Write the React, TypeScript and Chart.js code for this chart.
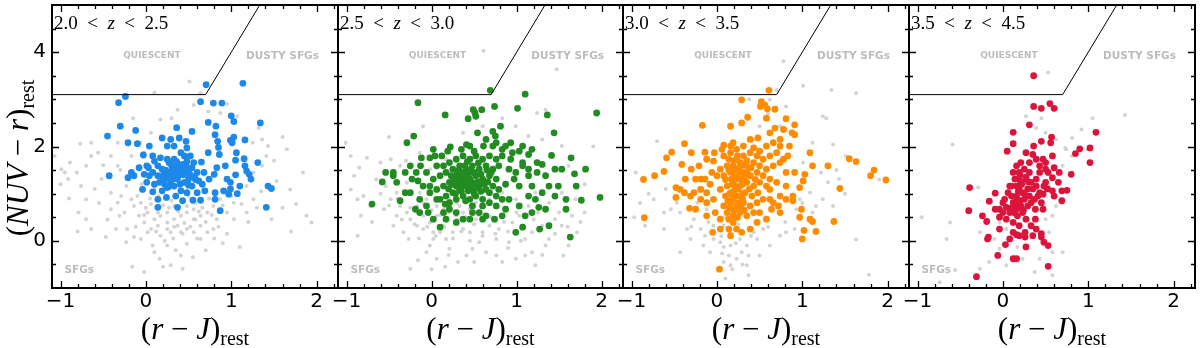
import React, { useEffect, useRef } from "react";
import { Chart, registerables } from "chart.js";

Chart.register(...registerables);

// ---------------- axes ----------------
const X_MIN = -1.1;
const X_MAX = 2.25;
const Y_MIN = -1;
const Y_MAX = 5;
const X_TICKS = [-1, 0, 1, 2];
const Y_TICKS = [0, 2, 4];

// ---------------- panels ----------------
const PANEL_ZLO = ["2.0", "2.5", "3.0", "3.5"];
const PANEL_ZHI = ["2.5", "3.0", "3.5", "4.5"];
const PANEL_COLORS = ["#1e88e8", "#228b22", "#ff8c00", "#dc143c"];
const GRAY_COLOR = "#d3d3d3";

// selection boundary (NUV-r > 3.1 and NUV-r > 3(r-J)+1)
const BOUNDARY_X = [-1.1, 0.7, 1.3333];
const BOUNDARY_Y = [3.1, 3.1, 5];

// region labels
const REGION_NAMES = ["QUIESCENT", "DUSTY SFGs", "SFGs"];
const REGION_X = [0.07, 1.6, -0.78];
const REGION_Y = [3.92, 3.92, -0.63];

// ---------------- data: 2.0 < z < 2.5 ----------------
const SEL_Z20_25: number[][] = [
  [0.705,3.31],[1.136,3.34],[-0.24,3.06],[-0.32,2.93],[0.64,2.95],[0.79,2.92],[0.89,2.92],[-0.30,2.43],[-0.12,2.34],[-0.45,2.22],
  [-0.21,2.08],[-0.10,2.06],[0.04,2.01],[-0.03,1.82],[-0.43,1.38],[0.36,2.40],[0.54,2.32],[0.73,2.51],[0.82,2.43],[1.0,2.65],
  [1.03,2.53],[1.34,2.50],[1.16,2.14],[0.81,2.25],[0.84,2.11],[0.99,2.13],[1.03,2.20],[1.01,2.08],[0.85,1.98],[0.73,1.87],
  [0.86,1.83],[1.06,1.87],[1.05,1.71],[1.15,1.74],[1.31,1.66],[1.16,1.59],[1.18,1.48],[1.21,1.41],[1.23,1.31],[1.05,1.40],
  [0.99,1.24],[1.10,1.16],[1.43,1.16],[1.47,1.11],[1.41,0.71],[1.07,1.0],[0.97,0.99],[0.93,1.59],[0.83,1.55],[0.65,1.67],
  [0.80,1.41],[0.74,1.31],[0.66,1.20],[0.69,1.06],[0.60,1.02],[0.64,0.86],[0.55,0.86],[0.81,0.88],[0.87,0.64],[0.91,1.06],
  [0.81,1.02],[0.43,0.85],[0.37,0.71],[0.14,0.71],[0.24,0.92],[0.14,0.88],[0.08,1.04],[-0.04,1.09],[0.01,1.24],[-0.08,1.55],
  [0.01,1.59],[-0.17,1.45],[-0.21,1.34],[-0.14,1.38],[0.10,1.69],[0.17,1.76],[0.08,1.80],[0.14,1.59],[0.19,1.52],[0.25,1.45],
  [0.31,1.55],[0.27,1.66],[0.33,1.73],[0.41,1.87],[0.45,1.80],[0.48,1.69],[0.52,1.80],[0.56,1.66],[0.43,1.62],[0.33,2.01],
  [0.25,2.01],[0.19,2.18],[0.29,2.15],[0.39,2.18],[0.47,2.11],[0.48,1.97],[0.37,1.31],[0.48,1.45],[0.54,1.55],[0.45,1.24],
  [0.33,1.16],[0.21,1.27],[0.14,1.38],[0.08,1.45],[0.25,1.13],[0.19,1.06],[0.41,1.06],[0.48,1.02],[0.35,0.95],[0.29,1.27],
  [0.50,1.31],[0.60,1.45],[0.62,1.27],[0.48,1.55],[0.41,1.45],[0.33,1.41],[0.27,1.34],[0.21,1.41],[0.16,1.24],[0.10,1.20],
  [0.04,1.38],[-0.02,1.41],[0.03,1.55],[0.25,1.73],[0.37,1.59],[0.46,1.56],[0.54,1.16],[0.68,1.45],[0.95,1.31],[0.99,1.10],
  [0.2,1.35],[0.23,1.5],[0.28,1.45],[0.31,1.3],[0.35,1.5],[0.38,1.38],[0.42,1.52],[0.44,1.4],[0.5,1.5],[0.52,1.4],
  [0.57,1.35],[0.3,1.6],[0.36,1.68],[0.4,1.6],[0.47,1.63],[0.22,1.2],[0.27,1.15],[0.4,1.2],[0.5,1.18],[0.58,1.3],
];
const ALL_Z20_25: number[][] = [
  [0.51,3.38],[0.10,3.14],[0.56,2.88],[1.32,2.39],[-0.77,2.06],[-1.07,1.80],[-0.95,1.45],[-0.91,1.31],[-0.81,1.45],[-0.64,1.80],
  [-0.56,1.87],[-0.70,1.59],[-0.52,1.31],[-0.76,1.16],[-0.70,0.88],[-0.79,0.60],[-0.70,0.46],[-0.64,0.25],[-0.47,0.08],[-0.41,0.67],
  [-0.41,1.02],[-0.33,0.81],[-0.31,0.53],[-0.22,0.25],[-0.14,0.08],[-0.06,0.04],[-0.23,-0.03],[-0.16,-0.55],[-0.02,-0.66],[0.10,-0.24],
  [0.16,-0.38],[0.25,-0.10],[0.29,-0.52],[0.43,-0.59],[0.41,-0.31],[0.48,-0.06],[0.41,0.18],[0.29,0.18],[0.17,0.11],[0.06,0.25],
  [-0.02,0.39],[-0.08,0.53],[-0.14,0.74],[-0.10,0.95],[0.02,0.60],[0.10,0.46],[0.17,0.53],[0.25,0.39],[0.33,0.46],[0.41,0.53],
  [0.48,0.60],[0.56,0.46],[0.64,0.53],[0.72,0.60],[0.79,0.74],[0.64,0.32],[0.56,0.18],[0.72,0.18],[0.83,0.46],[0.95,0.60],
  [1.03,0.46],[1.10,-0.13],[1.18,0.60],[1.26,0.88],[1.47,0.46],[1.53,1.27],[1.69,1.09],[1.76,0.78],[1.84,1.45],[1.88,0.53],
  [1.94,0.39],[1.65,1.94],[1.43,2.01],[1.36,2.15],[1.25,2.08],[1.07,2.64],[0.87,2.71],[0.73,2.74],[0.64,3.13],[0.37,2.78],
  [0.17,2.57],[0.06,2.29],[-0.06,2.08],[-0.33,2.08],[-0.41,1.80],[-0.33,1.59],[-0.23,1.16],[-0.29,0.95],[-0.17,0.88],[-0.06,0.81],
  [0.06,0.78],[0.14,0.60],[0.25,0.60],[0.33,0.74],[0.48,0.74],[0.56,0.67],[0.25,0.25],[0.37,0.32],[0.48,0.25],[0.14,0.32],
  [0.02,0.18],[0.64,0.04],[0.79,0.25],[0.87,0.88],[1.03,0.81],[1.18,1.16],[1.26,1.45],[1.36,1.59],[1.41,1.80],[-0.02,1.87],
  [-0.17,1.80],[-0.64,2.08],[-0.99,1.52],[-0.89,1.66],
  [0.0,0.7],[0.05,0.9],[0.12,0.2],[0.2,0.75],[0.22,0.0],[0.3,0.85],[0.32,0.05],[0.38,0.62],[0.45,0.38],[0.52,0.3],
  [0.58,0.8],[0.6,0.05],[0.66,0.7],[0.7,0.4],[0.77,0.55],[0.85,0.3],[0.9,0.75],[0.95,0.15],[1.0,0.95],[1.12,0.78],
  [1.2,0.4],[1.3,0.7],[1.35,1.05],[-0.05,1.2],[-0.2,1.3],[-0.3,1.5],[-0.5,1.6],[-0.6,1.1],[-0.55,0.8],[-0.45,0.45],
  [-0.35,0.25],[-0.25,0.6],[-0.12,0.3],[0.08,-0.1],[0.35,-0.2],[0.2,-0.55],[0.55,-0.35],[0.7,-0.2],[0.9,-0.05],[-0.8,0.2],
  [-0.9,0.9],[-1.0,1.2],[1.6,0.7],[1.7,0.2],[1.5,1.7],[1.6,2.2],[0.95,2.9],[0.3,2.6],[-0.15,2.6],[0.1,1.1],
  [0.27,0.7],[0.43,0.15],[0.62,0.62],[0.74,0.9],[0.5,0.95],[0.15,0.95],[-0.02,0.55],[0.33,0.3],[0.58,0.45],[0.8,0.05],
];

// ---------------- data: 2.5 < z < 3.0 ----------------
const SEL_Z25_30: number[][] = [
  [0.69,3.19],[1.10,3.11],[-0.16,2.93],[0.16,2.67],[0.49,2.78],[0.59,2.78],[0.74,2.85],[1.01,2.81],[1.36,2.67],[1.94,2.71],
  [0.43,2.59],[0.52,2.64],[0.51,2.71],[0.81,2.43],[0.72,2.32],[0.54,2.29],[1.44,2.29],[-0.21,2.22],[-0.29,2.08],[0.22,1.99],
  [0.41,2.04],[0.75,2.22],[0.93,2.08],[1.07,2.01],[1.18,1.94],[1.14,1.83],[1.03,1.90],[0.61,2.01],[0.50,1.90],[0.83,1.94],
  [0.72,2.01],[1.41,1.81],[1.64,1.76],[1.53,1.52],[1.68,1.42],[1.81,1.52],[1.70,1.16],[1.76,0.86],[1.98,0.92],[1.58,0.88],
  [1.58,0.67],[1.63,0.08],[1.34,0.67],[1.26,0.71],[1.18,0.60],[1.10,0.53],[1.27,0.25],[1.38,0.32],[1.07,0.29],[0.99,0.18],
  [1.14,0.95],[1.03,1.16],[1.14,1.38],[1.24,1.45],[1.34,1.38],[1.45,1.52],[1.30,1.62],[1.24,1.66],[1.07,1.66],[0.93,1.73],
  [0.91,1.52],[0.99,1.45],[0.97,1.31],[0.87,1.20],[0.79,1.09],[0.76,0.95],[0.83,0.88],[0.68,0.81],[0.60,0.74],[0.48,0.74],
  [0.45,0.46],[0.37,0.46],[0.60,0.46],[0.29,0.60],[0.14,0.60],[0.10,0.29],[0.16,0.78],[0.06,0.88],[-0.04,0.60],[-0.14,0.88],
  [-0.14,0.60],[-0.37,0.85],[-0.70,0.78],[-0.58,1.25],[-0.45,1.45],[-0.45,1.38],[-0.31,1.45],[-0.18,1.45],[-0.31,1.02],[-0.16,1.27],
  [-0.12,1.76],[-0.02,1.76],[-0.13,1.59],[-0.06,1.45],[0.04,1.80],[0.12,1.80],[0.06,1.59],[0.14,1.59],[0.21,1.66],[0.29,1.73],
  [0.37,1.80],[0.45,1.73],[0.52,1.80],[0.60,1.73],[0.68,1.80],[0.76,1.73],[0.83,1.80],[0.79,1.59],[0.72,1.52],[0.64,1.59],
  [0.56,1.52],[0.48,1.59],[0.41,1.52],[0.33,1.59],[0.25,1.52],[0.17,1.45],[0.10,1.38],[0.02,1.31],[-0.02,1.16],[0.06,1.09],
  [0.14,1.16],[0.21,1.24],[0.29,1.31],[0.37,1.38],[0.45,1.31],[0.52,1.38],[0.60,1.31],[0.68,1.38],[0.76,1.31],[0.72,1.16],
  [0.64,1.09],[0.56,1.16],[0.48,1.09],[0.41,1.16],[0.33,1.09],[0.25,1.02],[0.17,0.95],[0.10,0.88],[0.21,0.81],[0.29,0.88],
  [0.37,0.95],[0.45,0.88],[0.52,0.95],[0.60,0.88],[0.68,1.02],[0.41,1.31],[0.37,1.20],[0.43,1.06],[0.35,1.45],[0.47,1.45],
  [0.39,1.59],[0.29,1.16],[0.23,1.38],[0.52,1.23],[0.58,1.41],[0.48,0.60],[0.56,0.60],[0.21,0.67],[-0.02,1.02],[-0.10,1.16],
  [-0.23,1.31],[-0.25,1.59],[0.02,1.94],[0.19,1.90],[0.35,1.94],[0.45,2.01],[0.64,2.15],[0.76,2.08],[0.87,2.01],[0.95,1.87],
  [1.07,1.59],[1.14,1.52],[1.18,1.16],[1.30,1.02],[1.22,0.88],[1.38,1.16],[1.49,1.16],[1.45,0.95],[1.03,0.74],[0.91,0.88],
  [0.87,0.67],[0.76,0.74],[0.83,0.53],[0.74,0.46],[0.64,0.53],[0.29,0.39],[0.17,0.46],[0.02,0.46],[-0.06,0.74],[-0.19,0.67],
  [-0.25,1.02],[-0.41,1.24],[-0.54,1.45],
  [0.3,1.2],[0.33,1.25],[0.36,1.15],[0.38,1.3],[0.4,1.22],[0.42,1.4],[0.44,1.18],[0.46,1.27],[0.5,1.2],[0.53,1.12],
  [0.35,1.35],[0.3,1.42],[0.27,1.3],[0.24,1.2],[0.45,1.5],[0.5,1.45],[0.55,1.25],[0.58,1.05],[0.62,1.2],[0.66,1.25],
  [0.7,1.45],[0.65,1.5],[0.55,1.65],[0.42,1.68],[0.32,1.5],[0.2,1.1],[0.28,1.0],[0.35,1.05],[0.4,0.85],[0.5,1.0],
];
const ALL_Z25_30: number[][] = [
  [0.61,4.03],[1.47,3.64],[1.02,2.84],[1.24,2.71],[1.34,2.78],[-0.10,2.43],[-1.01,2.08],[-0.76,1.76],[-0.60,1.66],[-0.91,1.38],
  [-0.95,1.09],[-0.87,0.88],[-0.83,0.53],[-0.87,0.11],[-0.72,0.74],[-0.54,1.16],[-0.48,0.88],[-0.56,0.67],[-0.41,0.53],[-0.45,0.32],
  [-0.33,0.18],[-0.27,0.04],[-0.25,-0.59],[-0.16,-0.41],[-0.06,-0.24],[-0.02,-0.10],[0.02,0.04],[0.10,0.18],[0.17,0.04],[0.21,-0.17],
  [0.06,-0.38],[0.16,-0.55],[0.31,-0.45],[0.41,-0.31],[0.48,-0.17],[0.56,-0.03],[0.64,-0.24],[0.76,-0.31],[0.83,-0.45],[0.99,-0.38],
  [1.10,-0.31],[1.22,-0.52],[1.18,-0.24],[1.34,-0.10],[1.55,-0.31],[1.61,-0.10],[1.38,0.04],[1.10,0.04],[0.91,-0.03],[0.76,0.04],
  [0.60,0.18],[0.45,0.18],[0.37,0.25],[0.25,0.18],[0.14,0.32],[0.02,0.18],[-0.10,0.25],[-0.17,0.32],[-0.25,0.46],[-0.29,0.60],
  [-0.17,0.74],[-0.10,0.53],[-0.02,0.39],[0.06,0.53],[0.14,0.67],[0.29,0.53],[0.37,0.60],[0.45,0.67],[0.52,0.46],[0.68,0.32],
  [0.79,0.25],[0.95,0.39],[1.03,0.53],[1.18,0.18],[1.30,0.32],[1.45,0.46],[1.53,0.32],[1.65,0.53],[1.71,0.18],[1.80,0.60],
  [1.53,1.02],[1.69,0.88],[1.22,1.02],[1.38,0.81],[1.14,0.74],[0.83,1.02],[0.68,0.88],[0.21,0.88],[0.06,0.74],[-0.37,0.74],
  [-0.41,1.02],[-0.29,1.23],[-0.37,1.59],[-0.48,1.73],[-0.14,1.87],[0.37,2.29],[0.60,2.43],[0.83,2.60],[0.99,2.43],[1.14,2.22],
  [1.30,2.15],[1.53,2.01],[1.61,1.59],[0.99,0.88],[0.33,0.74],[0.52,0.81],[-0.06,0.88],[-0.14,1.02],[-0.02,1.52],[0.17,1.73],
  [-0.6,1.0],[-0.5,0.75],[-0.4,0.9],[-0.35,0.45],[-0.25,0.7],[-0.2,0.35],[-0.1,0.8],[-0.05,0.3],[0.0,0.65],[0.05,0.1],
  [0.1,0.55],[0.15,0.3],[0.2,0.6],[0.25,0.05],[0.3,0.45],[0.35,0.2],[0.4,0.5],[0.45,0.0],[0.5,0.35],[0.55,0.55],
  [0.6,0.1],[0.7,0.5],[0.75,0.15],[0.85,0.4],[0.9,0.2],[1.0,0.6],[1.05,0.0],[1.2,0.45],[1.25,0.6],[1.45,0.15],
  [1.5,0.6],[1.6,0.3],[1.75,0.4],[-0.7,0.4],[-0.8,0.95],[-0.65,1.3],[-0.85,1.55],[0.2,-0.3],[0.5,-0.45],[0.9,-0.15],
  [0.0,-0.6],[-0.15,0.05],[1.3,-0.3],[-0.3,1.7],[-0.5,2.2],[1.8,1.2],[1.9,2.0],[-0.95,1.8],[0.3,0.8],[0.05,0.85],
];

// ---------------- data: 3.0 < z < 3.5 ----------------
const SEL_Z30_35: number[][] = [
  [0.61,3.19],[0.29,2.99],[0.52,2.95],[0.51,2.85],[0.59,2.80],[0.56,2.88],[0.68,2.79],[0.36,2.62],[0.58,2.60],[0.81,2.59],
  [-0.17,2.45],[0.16,2.43],[0.29,2.50],[0.91,2.46],[0.68,2.39],[0.78,2.36],[0.88,2.29],[0.91,2.25],[-0.38,2.06],[0.08,2.03],
  [0.19,2.08],[0.39,2.15],[0.48,2.18],[0.58,2.01],[0.74,2.01],[0.85,2.01],[1.09,1.87],[1.55,1.74],[1.63,1.68],[1.30,1.59],
  [1.12,1.59],[1.84,1.50],[1.80,1.38],[1.98,1.29],[1.44,1.11],[1.03,1.41],[1.01,1.27],[0.97,1.13],[0.89,0.95],[0.89,0.85],
  [0.81,1.45],[0.70,1.24],[0.62,1.09],[0.74,0.95],[0.66,0.81],[0.74,0.60],[0.99,0.67],[0.97,0.50],[1.09,0.46],[1.12,0.41],
  [1.02,0.22],[1.16,0.20],[1.00,0.04],[1.37,0.41],[0.58,0.46],[0.47,0.39],[0.39,0.25],[0.29,0.18],[0.16,0.11],[0.14,0.25],
  [0.04,0.25],[-0.05,0.18],[0.03,-0.60],[-0.12,0.53],[-0.25,0.67],[-0.32,0.69],[-0.38,1.02],[-0.48,0.92],[-0.85,0.49],[-0.86,1.30],
  [-0.73,1.38],[-0.62,1.47],[-0.59,1.76],[-0.53,1.88],[-0.41,1.62],[-0.30,1.52],[-0.25,1.31],[-0.19,1.31],[-0.14,1.31],[-0.08,1.20],
  [-0.12,1.02],[-0.04,0.88],[-0.12,0.81],[-0.19,0.88],[-0.31,0.95],[-0.43,1.09],[-0.48,1.13],[-0.37,1.31],[-0.30,1.87],[-0.14,1.88],
  [-0.03,1.87],[-0.12,1.73],[0.08,1.80],[0.16,1.87],[0.23,1.73],[0.31,1.80],[0.39,1.87],[0.47,1.80],[0.54,1.73],[0.62,1.80],
  [0.70,1.87],[0.74,1.66],[0.66,1.59],[0.58,1.52],[0.50,1.59],[0.43,1.66],[0.35,1.59],[0.27,1.66],[0.19,1.59],[0.12,1.59],
  [0.04,1.52],[0.00,1.38],[0.08,1.38],[0.16,1.45],[0.23,1.38],[0.31,1.45],[0.39,1.38],[0.47,1.45],[0.54,1.38],[0.62,1.31],
  [0.58,1.16],[0.50,1.24],[0.43,1.16],[0.35,1.24],[0.27,1.16],[0.19,1.24],[0.12,1.16],[0.04,1.09],[0.10,0.95],[0.17,1.02],
  [0.25,0.95],[0.33,1.02],[0.41,0.95],[0.48,1.02],[0.54,0.88],[0.47,0.81],[0.39,0.74],[0.31,0.81],[0.23,0.74],[0.16,0.81],
  [0.08,0.74],[0.12,0.60],[0.19,0.53],[0.27,0.60],[0.35,0.53],[0.43,0.60],[0.50,0.60],[0.19,0.39],[0.23,0.25],[0.14,0.46],
  [0.19,0.88],[0.21,1.16],[0.23,1.31],[0.17,1.31],[0.27,1.45],[0.21,1.52],[0.14,1.73],[0.06,1.94],[-0.04,1.69],[-0.06,1.45],
  [-0.21,1.59],[-0.19,1.09],[-0.27,1.02],[-0.02,0.60],[0.04,0.46],[0.64,0.67],[0.62,0.88],[0.72,0.74],[0.81,1.16],[0.81,0.88],
  [0.78,1.73],[0.66,2.08],[0.43,1.97],[0.50,1.90],[0.31,2.01],[0.23,1.94],[0.16,2.01],[0.62,2.29],[0.74,2.15],[0.83,1.80],
  [0.91,1.45],
  [0.15,1.0],[0.2,1.05],[0.25,1.1],[0.3,1.2],[0.18,1.2],[0.22,1.4],[0.28,1.3],[0.32,1.35],[0.26,1.55],[0.3,1.6],
  [0.2,1.7],[0.24,1.8],[0.35,1.7],[0.14,1.5],[0.1,1.3],[0.15,0.7],[0.2,0.65],[0.25,0.8],[0.3,0.9],[0.22,0.95],
  [0.13,0.85],[0.28,0.7],[0.35,1.45],[0.4,1.55],[0.45,1.3],[0.38,1.1],[0.32,0.65],[0.18,0.45],[0.24,0.5],[0.3,1.0],
];
const ALL_Z30_35: number[][] = [
  [0.78,3.81],[1.01,3.29],[1.34,3.20],[1.63,3.13],[1.24,2.64],[1.28,2.60],[0.38,3.00],[0.74,2.43],[-0.70,2.11],[1.36,2.04],
  [1.51,1.80],[1.43,1.31],[1.30,1.24],[1.22,1.45],[1.09,1.02],[1.16,0.74],[1.36,0.74],[1.63,0.03],[1.78,-0.72],[-0.95,1.45],
  [-0.97,0.50],[-0.84,0.32],[-0.62,0.25],[-0.43,-0.24],[-0.74,0.88],[-0.54,0.67],[-0.43,0.60],[-0.27,0.46],[-0.19,0.25],[-0.14,0.11],
  [-0.04,0.04],[0.04,-0.03],[0.08,-0.13],[0.06,-0.27],[0.14,-0.31],[0.08,-0.45],[0.16,-0.52],[0.23,-0.38],[0.29,-0.24],[0.35,-0.10],
  [0.37,-0.31],[0.35,-0.52],[0.37,-0.73],[0.50,-0.31],[0.47,0.04],[0.62,-0.10],[0.74,0.11],[0.81,0.18],[0.91,0.25],[1.12,0.60],
  [1.24,0.88],[-0.31,0.04],[-0.35,0.25],[-0.16,-0.10],[-0.08,-0.24],[0.54,0.25],[0.43,0.18],[0.27,0.04],[0.16,-0.10],[-0.04,0.32],
  [0.08,0.32],[-0.62,0.60],[-0.47,0.81],[-0.23,0.81],[-0.12,0.67],[0.93,0.67],[0.97,0.88],[0.62,2.99],[0.81,2.85],[0.43,2.15],
  [0.50,2.43],[1.12,2.08],[1.01,1.66],
  [0.1,0.5],[0.15,0.2],[0.22,-0.05],[0.25,0.35],[0.3,-0.5],[0.18,-0.6],[0.1,-0.8],[0.4,0.1],[0.05,0.1],[-0.1,0.4],
  [-0.3,0.3],[0.6,0.3],[0.8,0.4],[1.0,0.8],[1.4,1.5],[1.5,1.0],[-0.8,1.0],[-0.6,1.1],[-0.9,0.8],[1.9,1.3],
  [0.7,3.2],[0.6,2.7],
];

// ---------------- data: 3.5 < z < 4.5 ----------------
const SEL_Z35_45: number[][] = [
  [0.36,3.50],[0.36,2.85],[0.45,2.81],[0.55,2.91],[0.60,2.81],[0.31,2.46],[0.12,2.30],[0.12,2.06],[0.36,2.01],[1.09,2.30],
  [1.02,1.97],[0.90,1.95],[0.85,1.85],[1.02,1.66],[0.80,1.41],[0.57,2.20],[0.56,2.08],[0.45,2.11],[0.05,1.90],[0.27,1.87],
  [0.35,1.83],[0.31,1.66],[0.39,1.73],[0.47,1.73],[0.50,1.66],[0.43,1.59],[0.60,1.55],[0.53,1.45],[0.58,1.34],[0.65,1.24],
  [0.69,1.06],[0.75,1.07],[0.69,0.85],[0.60,0.95],[0.58,1.06],[0.48,1.16],[0.47,0.99],[0.45,0.81],[0.47,0.67],[0.38,0.67],
  [0.38,0.46],[0.39,0.25],[0.26,0.08],[0.27,-0.13],[0.45,0.15],[0.45,0.08],[0.48,-0.03],[0.53,-0.10],[0.53,-0.54],[0.16,0.13],
  [0.08,0.04],[0.03,-0.08],[-0.06,-0.31],[0.12,-0.38],[0.16,-0.38],[-0.31,-0.76],[-0.17,0.08],[-0.18,0.04],[-0.19,0.41],[-0.24,0.53],
  [-0.39,1.13],[-0.40,0.64],[-0.16,0.84],[-0.09,1.01],[-0.09,0.67],[-0.04,0.25],[-0.04,0.50],[0.00,0.60],[0.04,0.71],[0.02,0.88],
  [0.06,1.02],[0.10,1.16],[0.14,1.31],[0.12,1.45],[0.16,1.59],[0.21,1.66],[0.19,1.45],[0.25,1.52],[0.31,1.45],[0.27,1.31],
  [0.21,1.24],[0.19,1.10],[0.16,0.95],[0.12,0.81],[0.08,0.60],[0.04,0.46],[0.12,0.39],[0.17,0.53],[0.23,0.60],[0.29,0.74],
  [0.25,0.88],[0.31,0.95],[0.35,1.10],[0.33,1.24],[0.39,1.31],[0.43,1.45],[0.50,1.24],[0.52,1.10],[0.41,0.95],[0.33,0.81],
  [0.21,0.74],[0.16,0.67],[0.19,0.32],[0.27,0.46],[0.33,0.32],[0.35,0.11],[0.12,0.18],[-0.04,0.67],[0.00,0.81],[0.08,1.16],
  [0.16,1.16],[0.23,1.02],[0.29,1.10],[0.37,0.88],[0.43,1.02],[0.39,1.16],[0.19,1.31],[0.16,0.88],[0.10,0.95],[0.26,0.18],
  [0.19,0.11],[0.58,1.80],[0.50,1.52],[0.66,1.45],
  [0.15,0.75],[0.2,0.85],[0.25,1.0],[0.18,1.05],[0.22,1.2],[0.28,0.95],[0.13,0.6],[0.3,1.25],[0.24,0.65],[0.1,0.7],
  [0.27,1.35],[0.2,1.4],
];
const ALL_Z35_45: number[][] = [
  [0.53,3.57],[0.27,2.64],[0.45,2.60],[1.05,2.60],[1.43,2.67],[0.92,2.36],[0.81,2.18],[0.73,1.97],[0.99,1.94],[-0.59,2.04],
  [0.39,2.39],[0.50,2.29],[0.62,2.15],[0.70,1.59],[0.81,1.45],[0.54,1.16],[-0.29,1.13],[-0.95,0.50],[-0.62,0.39],[-0.66,0.04],
  [-0.56,-0.62],[-0.74,-0.88],[-0.27,-0.59],[-0.16,-0.45],[-0.04,-0.17],[0.04,-0.52],[0.17,-0.13],[0.23,-0.38],[0.37,-0.66],[0.43,-0.38],
  [0.58,-0.73],[0.58,-0.24],[0.70,-0.24],[0.54,0.18],[0.50,0.46],[-0.04,0.39],[-0.10,0.04],[-0.27,0.18],[0.04,0.25],[0.62,0.74],
  [0.58,0.53],[0.81,1.80],[0.74,1.94],
];

const SELECTED = [SEL_Z20_25, SEL_Z25_30, SEL_Z30_35, SEL_Z35_45];
const ALL = [ALL_Z20_25, ALL_Z25_30, ALL_Z30_35, ALL_Z35_45];

// ---------------- layout ----------------
const W = 1200;
const H = 348;
const PANEL_EDGES = [52, 338, 623, 909, 1195];
const PLOT_TOP = 5;
const PLOT_BOTTOM = 288;

const SERIF = "'Liberation Serif', 'DejaVu Serif', serif";

type Run = { t: string; f: string; dy?: number };

function drawRuns(ctx: CanvasRenderingContext2D, runs: Run[], x: number, y: number, align: "left" | "center") {
  let total = 0;
  const widths = runs.map((r) => {
    ctx.font = r.f;
    const w = ctx.measureText(r.t).width;
    total += w;
    return w;
  });
  let cx = align === "center" ? x - total / 2 : x;
  ctx.textAlign = "left";
  ctx.textBaseline = "alphabetic";
  runs.forEach((r, k) => {
    ctx.font = r.f;
    ctx.fillText(r.t, cx, y + (r.dy || 0));
    cx += widths[k];
  });
}

function axisTitleRuns(a: string[], sizeMain: number, sizeSub: number): Run[] {
  const runs: Run[] = a.map((tok) =>
    tok.startsWith("*")
      ? { t: tok.slice(1), f: `italic ${sizeMain}px ${SERIF}` }
      : { t: tok, f: `${sizeMain}px ${SERIF}` }
  );
  runs.push({ t: "rest", f: `${sizeSub}px ${SERIF}`, dy: 6 });
  return runs;
}

const decorPlugin = {
  id: "decor",
  beforeDatasetsDraw(chart: any) {
    const { ctx } = chart;
    const xs = chart.scales.x;
    const ys = chart.scales.y;
    ctx.save();
    ctx.fillStyle = "#bcbcbc";
    ctx.textAlign = "center";
    ctx.textBaseline = "middle";
    REGION_NAMES.forEach((t, k) => {
      ctx.font = k === 0 ? "bold 9px 'DejaVu Sans'" : "bold 10.5px 'DejaVu Sans'";
      ctx.fillText(t, xs.getPixelForValue(REGION_X[k]), ys.getPixelForValue(REGION_Y[k]));
    });
    ctx.restore();
  },
  afterDraw(chart: any, _args: any, opts: any) {
    const i: number = opts.index;
    const { ctx, chartArea } = chart;
    const { left, right, top, bottom } = chartArea;
    const xs = chart.scales.x;
    const ys = chart.scales.y;
    ctx.save();
    ctx.strokeStyle = "#000";
    ctx.lineWidth = 1.3;
    ctx.beginPath();
    for (let k = -5; k <= 11; k++) {
      const v = k * 0.2;
      if (v <= X_MIN || v >= X_MAX) continue;
      const major = Math.abs(v - Math.round(v)) < 1e-6;
      const len = major ? 7 : 4;
      const px = Math.round(xs.getPixelForValue(v)) + 0.5;
      ctx.moveTo(px, bottom);
      ctx.lineTo(px, bottom - len);
      ctx.moveTo(px, top);
      ctx.lineTo(px, top + len);
    }
    for (let k = -1; k <= 9; k++) {
      const v = k * 0.5;
      if (v <= Y_MIN || v >= Y_MAX) continue;
      const major = Math.abs(v / 2 - Math.round(v / 2)) < 1e-6;
      const len = major ? 7 : 4;
      const py = Math.round(ys.getPixelForValue(v)) + 0.5;
      ctx.moveTo(left, py);
      ctx.lineTo(left + len, py);
      ctx.moveTo(right, py);
      ctx.lineTo(right - len, py);
    }
    ctx.stroke();
    ctx.lineWidth = 2;
    ctx.strokeRect(left, top, right - left, bottom - top);

    // panel label
    ctx.fillStyle = "#000";
    const fs = 19;
    const sp = "\u2002";
    drawRuns(
      ctx,
      [
        { t: PANEL_ZLO[i], f: `${fs}px ${SERIF}` },
        { t: sp + "<" + sp, f: `${fs}px ${SERIF}` },
        { t: "z", f: `italic ${fs}px ${SERIF}` },
        { t: sp + "<" + sp, f: `${fs}px ${SERIF}` },
        { t: PANEL_ZHI[i], f: `${fs}px ${SERIF}` },
      ],
      left + 2,
      29,
      "left"
    );

    // x title
    drawRuns(ctx, axisTitleRuns(["(", "*r", " \u2212 ", "*J", ")"], 31, 20), (left + right) / 2, 339, "center");

    // y title (first panel only)
    if (i === 0) {
      ctx.save();
      ctx.translate(28, 158);
      ctx.rotate(-Math.PI / 2);
      drawRuns(ctx, axisTitleRuns(["(", "*NUV", " \u2212 ", "*r", ")"], 31, 20), 0, 0, "center");
      ctx.restore();
    }
    ctx.restore();
  },
};

const fmtTick = (v: number) => (v < 0 ? "\u2212" + Math.abs(v) : String(v));

function makeConfig(i: number): any {
  const left = PANEL_EDGES[i];
  const right = PANEL_EDGES[i + 1];
  const toPts = (arr: number[][]) => arr.map(([x, y]) => ({ x, y }));
  return {
    type: "scatter",
    data: {
      datasets: [
        {
          data: toPts(ALL[i]),
          pointRadius: 2,
          pointBackgroundColor: GRAY_COLOR,
          backgroundColor: GRAY_COLOR,
          pointBorderWidth: 0,
          borderWidth: 0,
          order: 3,
        },
        {
          data: toPts(SELECTED[i]),
          pointRadius: 3.4,
          pointBackgroundColor: PANEL_COLORS[i],
          backgroundColor: PANEL_COLORS[i],
          pointBorderWidth: 0,
          borderWidth: 0,
          order: 2,
        },
        {
          data: BOUNDARY_X.map((x, k) => ({ x, y: BOUNDARY_Y[k] })),
          showLine: true,
          borderColor: "#000",
          borderWidth: 1,
          pointRadius: 0,
          fill: false,
          order: 1,
        },
      ],
    },
    options: {
      responsive: false,
      animation: false,
      devicePixelRatio: 1,
      events: [],
      layout: {
        padding: { left: i === 0 ? 0 : left, right: W - right, top: PLOT_TOP, bottom: 0 },
      },
      plugins: {
        legend: { display: false },
        tooltip: { enabled: false },
        decor: { index: i },
      },
      scales: {
        x: {
          type: "linear",
          min: X_MIN,
          max: X_MAX,
          afterBuildTicks: (s: any) => {
            s.ticks = X_TICKS.map((value) => ({ value }));
          },
          afterFit: (s: any) => {
            s.height = H - PLOT_BOTTOM;
            s.paddingLeft = 0;
            s.paddingRight = 0;
            s.paddingTop = 0;
            s.paddingBottom = 0;
          },
          grid: { display: false, drawTicks: false },
          border: { display: false },
          ticks: {
            font: { family: "'DejaVu Sans'", size: 20 },
            color: "#000",
            padding: 2,
            maxRotation: 0,
            autoSkip: false,
            callback: (v: number) => fmtTick(v),
          },
        },
        y: {
          type: "linear",
          min: Y_MIN,
          max: Y_MAX,
          display: i === 0,
          afterBuildTicks: (s: any) => {
            s.ticks = Y_TICKS.map((value) => ({ value }));
          },
          afterFit: (s: any) => {
            s.width = i === 0 ? PANEL_EDGES[0] : 0;
            s.paddingLeft = 0;
            s.paddingRight = 0;
            s.paddingTop = 0;
            s.paddingBottom = 0;
          },
          grid: { display: false, drawTicks: false },
          border: { display: false },
          ticks: {
            font: { family: "'DejaVu Sans'", size: 20 },
            color: "#000",
            padding: 6,
            autoSkip: false,
            callback: (v: number) => fmtTick(v),
          },
        },
      },
    },
    plugins: [decorPlugin],
  };
}

export default function App() {
  const refs = useRef<(HTMLCanvasElement | null)[]>([]);
  useEffect(() => {
    const charts = [0, 1, 2, 3].map((i) => new Chart(refs.current[i] as HTMLCanvasElement, makeConfig(i)));
    return () => charts.forEach((c) => c.destroy());
  }, []);
  return (
    <div style={{ position: "absolute", left: 0, top: 0, width: W, height: H, background: "#fff" }}>
      {[0, 1, 2, 3].map((i) => (
        <canvas
          key={i}
          ref={(el) => {
            refs.current[i] = el;
          }}
          width={W}
          height={H}
          style={{ position: "absolute", left: 0, top: 0, width: W, height: H }}
        />
      ))}
    </div>
  );
}
